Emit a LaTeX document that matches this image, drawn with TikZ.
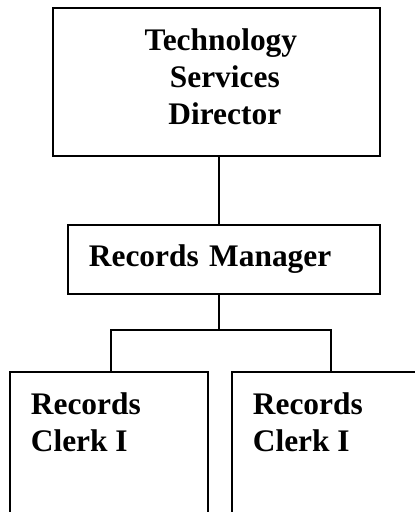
\documentclass[tikz,border=0pt]{standalone}
\usepackage{fontspec}
\setmainfont{Liberation Serif}
\usetikzlibrary{positioning}

\begin{document}
\begin{tikzpicture}[x=1pt, y=-1pt, line width=1.8pt,
    orgbox/.style={draw, rectangle, inner sep=0pt, anchor=north west},
    orgfont/.style={font=\fontsize{31.4}{37}\selectfont\bfseries},
    orgtext/.style={orgfont, inner sep=0pt}]
  \useasboundingbox (0,0) rectangle (415,512);
  \clip (0,0) rectangle (415,512);
  % director
  \node[orgbox, minimum width=327pt, minimum height=148pt] (tsd) at (52,7) {};
  \node[orgtext, align=center, below=20.8pt of tsd.north, xshift=4.5pt] (tsdtext)
    {Technology\\\hspace*{.25em}Services\\\hspace*{.25em}Director};
  % manager
  \node[orgbox, orgfont, minimum height=69pt, text width=270pt, inner xsep=21pt, align=left] (mgr) at (67,224) {Records Manager};
  % clerks
  \node[orgbox, minimum width=198pt, minimum height=170pt] (clerkA) at (9,371) {};
  \node[orgbox, minimum width=200pt, minimum height=170pt] (clerkB) at (231,371) {};
  \node[orgtext, align=left, below right=20.8pt and 21pt of clerkA.north west] (clerkAtext) {Records\\Clerk I};
  \node[orgtext, align=left, below right=20.8pt and 21pt of clerkB.north west] (clerkBtext) {Records\\Clerk I};
  % connectors
  \coordinate (hub) at (219,330);
  \coordinate (busL) at (111,330);
  \coordinate (busR) at (331,330);
  \draw (tsd.south -| hub) -- (mgr.north -| hub);
  \draw (mgr.south -| hub) -- (hub);
  \draw (busL |- clerkA.north) -- (busL) -- (busR) -- (busR |- clerkB.north);
\end{tikzpicture}
\end{document}
